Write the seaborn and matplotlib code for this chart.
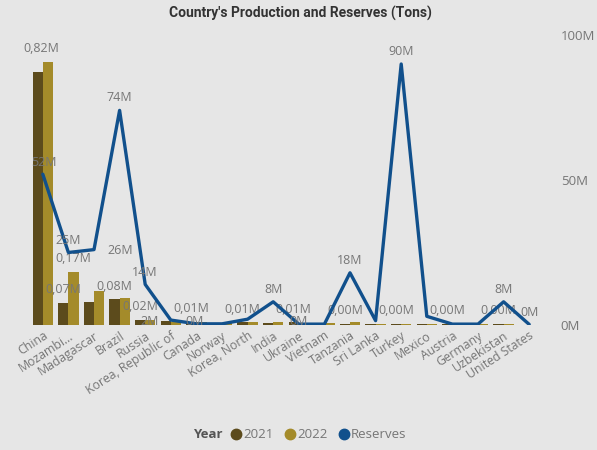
import matplotlib
matplotlib.use("Agg")
import matplotlib.pyplot as plt
import seaborn as sns
import pandas as pd
from matplotlib.lines import Line2D

# ---------------- data ----------------
countries = ["China", "Mozambi...", "Madagascar", "Brazil", "Russia",
             "Korea, Republic of", "Canada", "Norway", "Korea, North", "India",
             "Ukraine", "Vietnam", "Tanzania", "Sri Lanka", "Turkey", "Mexico",
             "Austria", "Germany", "Uzbekistan", "United States"]
years = ["2021", "2022"]
# production in million tons
prod_2021 = [0.786, 0.068, 0.070, 0.080, 0.017, 0.012, 0.009, 0.005, 0.008, 0.007,
             0.008, 0.005, 0.004, 0.003, 0.003, 0.003, 0.003, 0.002, 0.003, 0.000]
prod_2022 = [0.817, 0.166, 0.105, 0.084, 0.017, 0.010, 0.010, 0.005, 0.008, 0.008,
             0.006, 0.005, 0.008, 0.004, 0.004, 0.004, 0.004, 0.003, 0.004, 0.000]
# reserves in million tons
reserves = [52, 25, 26, 74, 14, 1.7, 0.4, 0.4, 2, 8,
            0.3, 0.3, 18, 1.5, 90, 3, 0.3, 0.3, 8, 0.2]
reserve_ticks = [0, 50, 100]
reserve_tick_labels = ["0M", "50M", "100M"]

# which data labels are visible (Power BI hides overlapping ones)
bar_labels = {("China", "2022"): (-5, 9.5), ("Mozambi...", "2021"): (0, 9.5),
              ("Mozambi...", "2022"): (0, 9.5), ("Brazil", "2021"): (0, 9.5),
              ("Russia", "2021"): (0, 9.5), ("Canada", "2021"): (0, 9.5),
              ("Korea, North", "2021"): (0, 9.5), ("Ukraine", "2021"): (0, 9.5),
              ("Tanzania", "2021"): (0, 9.5), ("Turkey", "2021"): (0, 9.5),
              ("Austria", "2021"): (0, 9.5), ("Uzbekistan", "2021"): (0, 9.5)}
line_labels = {"China": (1, 8.5), "Mozambi...": (0, 8.5), "Madagascar": (19, -1),
               "Brazil": (0, 9), "Russia": (0, 8.5), "Korea, Republic of": (-15, -1),
               "Canada": (-1, 2), "India": (0, 9), "Ukraine": (0, 2),
               "Tanzania": (0, 9), "Turkey": (0, 9), "Uzbekistan": (0, 9),
               "United States": (0, 8.5)}

# ---------------- style ----------------
BG = "#e6e6e6"
C21 = "#5c4b1c"
C22 = "#a48b2a"
BLUE = "#11508c"
GRAY = "#767676"

sns.set_theme(style="white")
plt.rcParams['font.family'] = ['Open Sans', 'DejaVu Sans']

df = pd.DataFrame({
    "country": countries * 2,
    "year": [years[0]] * len(countries) + [years[1]] * len(countries),
    "prod": prod_2021 + prod_2022,
})

fig = plt.figure(figsize=(5.97, 4.5), dpi=100, facecolor=BG)
ax = fig.add_axes([30 / 597, 1 - 325 / 450, 512 / 597, 290 / 450])
ax.set_facecolor("none")

sns.barplot(data=df, x="country", y="prod", hue="year", order=countries,
            hue_order=years, palette=[C21, C22], width=0.8, saturation=1,
            linewidth=0, edgecolor="none", ax=ax, legend=False)
ax.set_ylim(0, 0.9)

ax2 = ax.twinx()
sns.pointplot(x=countries, y=reserves, ax=ax2, color=BLUE, markersize=0,
              linewidth=2.4, errorbar=None)
ax2.set_ylim(0, 100)
ax.set_xlim(-0.5, len(countries) - 0.5)

# axes cosmetics
for a in (ax, ax2):
    for s in a.spines.values():
        s.set_visible(False)
ax.set_yticks([])
ax.set_ylabel("")
ax.set_xlabel("")
ax2.set_ylabel("")
ax2.set_yticks(reserve_ticks)
ax2.set_yticklabels(reserve_tick_labels, color=GRAY, fontsize=9.5)
ax2.tick_params(axis="y", length=0, pad=13.5)

ax.set_xticks(range(len(countries)))
ax.set_xticklabels(countries, rotation=33, ha="right", rotation_mode="anchor",
                   color=GRAY, fontsize=8.8)
ax.tick_params(axis="x", length=0, pad=3)

# bar data labels
for yi, year in enumerate(years):
    cont = ax.containers[yi]
    for ci, country in enumerate(countries):
        key = (country, year)
        if key in bar_labels:
            p = cont.patches[ci]
            val = p.get_height()
            txt = f"{val:.2f}".replace(".", ",") + "M"
            ax.annotate(txt, xy=(p.get_x() + p.get_width() / 2, val),
                        xytext=bar_labels[key], textcoords="offset points",
                        ha="center", va="center", fontsize=9, color=GRAY)

# line data labels
line = ax2.lines[0]
xs, ys = line.get_xdata(), line.get_ydata()
for ci, country in enumerate(countries):
    if country in line_labels:
        ax2.annotate(f"{ys[ci]:.0f}M", xy=(xs[ci], ys[ci]),
                     xytext=line_labels[country], textcoords="offset points",
                     ha="center", va="center", fontsize=9, color=GRAY)

# title
fig.text(300 / 597, 1 - 13 / 450, "Country's Production and Reserves (Tons)",
         ha="center", va="center", fontsize=10, fontweight="bold",
         color="#333333", family=["Roboto", "DejaVu Sans"])

# legend
fig.text(193 / 597, 1 - 435 / 450, "Year", ha="left", va="center",
         fontsize=9.5, fontweight="bold", color="#555555")
handles = [Line2D([], [], marker="o", linestyle="", markersize=7.5, color=c)
           for c in (C21, C22, BLUE)]
fig.legend(handles, ["2021", "2022", "Reserves"], loc="center left",
           bbox_to_anchor=(229 / 597, 1 - 435 / 450), ncol=3, frameon=False,
           handletextpad=0.05, columnspacing=0.75, handlelength=1.0,
           fontsize=9.5, labelcolor=GRAY, borderaxespad=0, borderpad=0)

fig.savefig("out.png", dpi=100, facecolor=BG)
